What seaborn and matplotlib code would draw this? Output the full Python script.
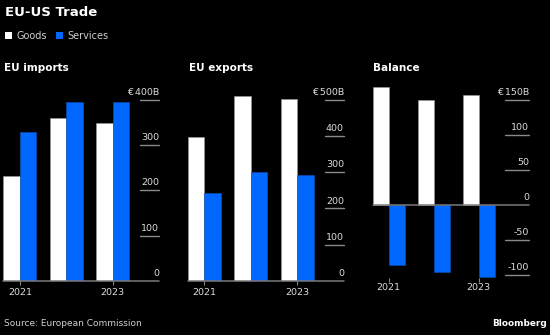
import matplotlib
matplotlib.use("Agg")
import matplotlib.pyplot as plt
from matplotlib.patches import Patch
import pandas as pd
import seaborn as sns

# --- data (EUR billions) ---
years = ["2021", "2022", "2023"]
imports_goods = [232, 359, 348]
imports_services = [330, 396, 396]
exports_goods = [399, 510, 503]
exports_services = [244, 301, 292]
balance_goods = [168, 150, 157]
balance_services = [-85, -96, -103]

imports_ticks = [0, 100, 200, 300, 400]
imports_labels = ["0", "100", "200", "300", "€\u2009400B"]
exports_ticks = [0, 100, 200, 300, 400, 500]
exports_labels = ["0", "100", "200", "300", "400", "€\u2009500B"]
balance_ticks = [-100, -50, 0, 50, 100, 150]
balance_labels = ["-100", "-50", "0", "50", "100", "€\u2009150B"]
xtick_pos = [0, 2]
xtick_labels = ["2021", "2023"]

WHITE = "#ffffff"
BLUE = "#0068ff"
GRID = "#8a8a8a"
LABEL = "#dcdcdc"

sns.set_theme(style="dark")
plt.rcParams["font.family"] = ["DejaVu Sans"]

W, H = 550, 335
fig = plt.figure(figsize=(W / 100, H / 100), dpi=100, facecolor="black")


def px_axes(left, right, top, bottom):
    return fig.add_axes([left / W, 1 - bottom / H, (right - left) / W, (bottom - top) / H])


def panel(ax, goods, services, ticks, labels, ylim, xlim, grid_xmin, xpad=2):
    df = pd.DataFrame({
        "year": years * 2,
        "kind": ["Goods"] * len(years) + ["Services"] * len(years),
        "value": goods + services,
    })
    sns.barplot(data=df, x="year", y="value", hue="kind",
                palette={"Goods": WHITE, "Services": BLUE},
                width=0.714, gap=0, saturation=1, errorbar=None,
                legend=False, ax=ax, edgecolor="#9a9a9a", linewidth=0.4)
    for bar in ax.patches:
        if bar.get_facecolor()[2] > 0.99 and bar.get_facecolor()[0] < 0.5:
            bar.set_edgecolor("#0a4fb8")
    ax.set_facecolor("black")
    ax.set_xlim(*xlim)
    ax.set_ylim(*ylim)
    for s in ax.spines.values():
        s.set_visible(False)
    ax.grid(False)
    ax.set_xlabel("")
    ax.set_ylabel("")
    ax.set_yticks([])
    ax.set_xticks(xtick_pos, xtick_labels)
    ax.tick_params(axis="x", length=3, width=0.8, color=GRID, labelcolor=LABEL,
                   labelsize=6.8, pad=xpad, bottom=True)
    # zero line spans the full width
    ax.axhline(0, color="#7a7a7a", lw=1.1, clip_on=False, zorder=3)
    # short gridlines under the right-hand value labels
    for v, lab in zip(ticks, labels):
        if v != 0:
            ax.axhline(v, xmin=grid_xmin, xmax=1, color=GRID, lw=1.0, clip_on=False)
        ax.annotate(lab, xy=(1, v), xycoords=("axes fraction", "data"),
                    xytext=(0, 3.5), textcoords="offset points",
                    ha="right", va="baseline", color=LABEL, fontsize=6.8)


ax1 = px_axes(3.3, 159.3, 85, 280.7)
panel(ax1, imports_goods, imports_services, imports_ticks, imports_labels,
      (0, 433), (-0.357, 3.007), 0.876)

ax2 = px_axes(188, 344, 85, 280.7)
panel(ax2, exports_goods, exports_services, exports_ticks, exports_labels,
      (0, 541.5), (-0.35, 3.01), 0.88)

ax3 = px_axes(373, 529.3, 85, 278.2)
panel(ax3, balance_goods, balance_services, balance_ticks, balance_labels,
      (-104.5, 171.4), (-0.35, 3.124), 0.846, xpad=0.5)

# titles and annotations
fig.text(5 / W, 1 - 12 / H, "EU-US Trade", color="white", fontsize=9.5,
         fontweight="bold", va="center")
fig.text(4 / W, 1 - 67.7 / H, "EU imports", color="white", fontsize=7.5,
         fontweight="bold", va="center")
fig.text(188.7 / W, 1 - 67.7 / H, "EU exports", color="white", fontsize=7.5,
         fontweight="bold", va="center")
fig.text(373.5 / W, 1 - 67.7 / H, "Balance", color="white", fontsize=7.5,
         fontweight="bold", va="center")

fig.legend(handles=[Patch(facecolor=WHITE, edgecolor="none"),
                    Patch(facecolor=BLUE, edgecolor="none")],
           labels=["Goods", "Services"], loc="center left",
           bbox_to_anchor=(-2 / W, 1 - 36 / H), ncol=2, frameon=False,
           handlelength=0.75, handleheight=0.75, handletextpad=0.45,
           columnspacing=0.9, fontsize=7, labelcolor="#cfcfcf", borderpad=0.2)

fig.text(3.5 / W, 1 - 324 / H, "Source: European Commission", color="#cfcfcf",
         fontsize=6.5, va="center")
fig.text(547 / W, 1 - 324 / H, "Bloomberg", color="white", fontsize=6.4,
         fontweight="bold", va="center", ha="right")

fig.savefig("out.png", dpi=100, facecolor="black")
